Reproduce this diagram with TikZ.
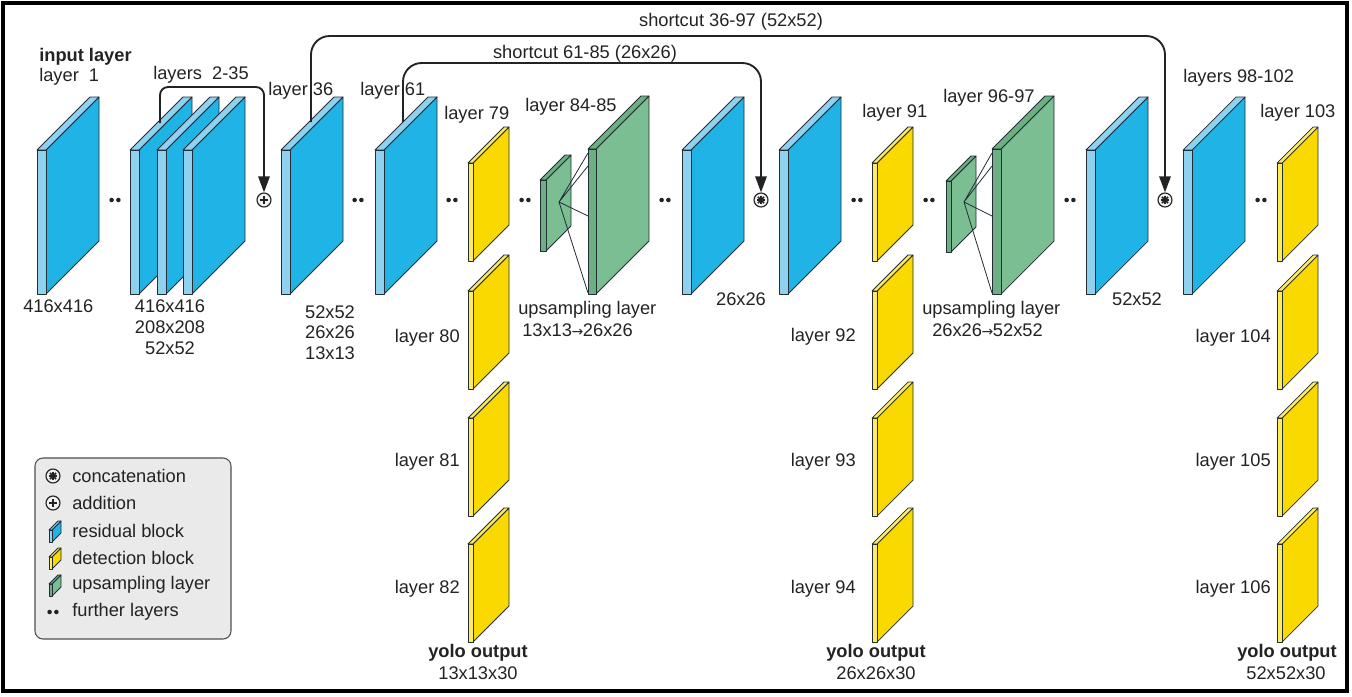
\documentclass[tikz,border=0pt]{standalone}
\usepackage{fontspec}
\setmainfont{Liberation Sans}
\newfontfamily\arrowfont{DejaVu Sans}
\usetikzlibrary{arrows.meta,calc}
\definecolor{bluedark}{RGB}{32,180,230}
\definecolor{bluelight}{RGB}{142,210,240}
\definecolor{yeldark}{RGB}{250,217,0}
\definecolor{yellight}{RGB}{255,236,90}
\definecolor{grndark}{RGB}{122,190,146}
\definecolor{grnlight}{RGB}{108,176,130}
\definecolor{edgec}{RGB}{35,45,55}
\definecolor{ink}{RGB}{35,35,35}
\definecolor{legfill}{RGB}{234,234,234}
\newcommand{\cuboid}[7]{%
  \filldraw[blockline, fill=#7] ({#1+#3},#2) -- ++(#5,-#5) -- ++(0,#4) -- ({#1+#3},{#2+#4}) -- cycle;
  \filldraw[blockline, fill=#6] (#1,#2) -- ++(#3,0) -- ++(#5,-#5) -- ++(-#3,0) -- cycle;
  \filldraw[blockline, fill=#6] (#1,#2) rectangle ++(#3,#4);
}
\newcommand{\twodots}[2]{%
  \fill[ink] ({#1-3.4},#2) circle (1.7pt) ({#1+3.4},#2) circle (1.7pt);
}
\newcommand{\smallarrow}{{\arrowfont\fontsize{10.5}{12}\selectfont\kern-0.3pt→\kern-0.3pt}}
\tikzset{
  blockline/.style={draw=edgec, line width=0.55pt, line join=round},
  lbl/.style={font=\fontsize{13.7}{16}\selectfont, text=ink, inner sep=0pt},
  lblb/.style={lbl, font=\fontsize{13.7}{16}\selectfont\bfseries},
  shortcut/.style={draw=ink, line width=1.4pt, rounded corners=14pt, -{Triangle[length=12pt,width=8.5pt]}},
  opbase/.style={circle, draw=ink, line width=0.85pt, fill=gray!12, minimum size=10.5pt, inner sep=0pt},
  addop/.style={opbase, path picture={
     \draw[ink, line width=1.2pt] ([xshift=-3.1pt]path picture bounding box.center) -- ([xshift=3.1pt]path picture bounding box.center);
     \draw[ink, line width=1.2pt] ([yshift=-3.1pt]path picture bounding box.center) -- ([yshift=3.1pt]path picture bounding box.center);}},
  catop/.style={opbase, path picture={
     \foreach \a in {0,45,90,135}{
       \draw[ink, line width=1.2pt] ($(path picture bounding box.center)+(\a:3.3pt)$) -- ($(path picture bounding box.center)+(\a+180:3.3pt)$);}}},
  upline/.style={draw=edgec, line width=0.6pt},
}
\begin{document}
\begin{tikzpicture}[x=0.75pt,y=-0.75pt]
\useasboundingbox (0,0) rectangle (1352,696);
\fill[white] (0,0) rectangle (1352,696);
\draw[black, line width=2.3pt] (3,3) rectangle (1347,691);

% ---------------- residual blocks ----------------
\cuboid{37}{150}{9}{144}{53}{bluelight}{bluedark}
\cuboid{130}{150}{9}{144}{53}{bluelight}{bluedark}
\cuboid{157}{150}{9}{144}{53}{bluelight}{bluedark}
\cuboid{183}{150}{9}{144}{53}{bluelight}{bluedark}
\cuboid{281}{150}{9}{144}{53}{bluelight}{bluedark}
\cuboid{375}{150}{9}{144}{53}{bluelight}{bluedark}
\cuboid{682}{150}{9}{144}{53}{bluelight}{bluedark}
\cuboid{779}{150}{9}{144}{53}{bluelight}{bluedark}
\cuboid{1086}{150}{9}{144}{53}{bluelight}{bluedark}
\cuboid{1183}{150}{9}{144}{53}{bluelight}{bluedark}

% ---------------- detection blocks ----------------
\foreach \cx in {468,872,1277}{
  \foreach \ry in {163,291,418,544}{
    \cuboid{\cx}{\ry}{5}{98}{36}{yellight}{yeldark}
  }
}

% ---------------- upsampling layers ----------------
\cuboid{540}{180}{6}{71}{25}{grnlight}{grndark}
\coordinate (up1) at (559,202);
\coordinate (u1a) at (588,153);
\coordinate (u1b) at (588,166);
\coordinate (u1c) at (588,216);
\coordinate (u1d) at (588,293);
\draw[upline] (up1) -- (u1a) (up1) -- (u1b) (up1) -- (u1c) (up1) -- (u1d);
\cuboid{588}{149}{8}{145}{53}{grnlight}{grndark}

\cuboid{946}{181}{5}{71}{25}{grnlight}{grndark}
\coordinate (up2) at (964,202);
\coordinate (u2a) at (992,153);
\coordinate (u2b) at (992,166);
\coordinate (u2c) at (992,216);
\coordinate (u2d) at (992,293);
\draw[upline] (up2) -- (u2a) (up2) -- (u2b) (up2) -- (u2c) (up2) -- (u2d);
\cuboid{992}{149}{9}{145}{53}{grnlight}{grndark}

% ---------------- further layers dots ----------------
\foreach \dx in {115,358,452,525,665,857,929,1070,1261}{
  \twodots{\dx}{200}
}

% ---------------- operators ----------------
\node[addop] (add) at (264,200) {};
\node[catop] (cat1) at (761,200) {};
\node[catop] (cat2) at (1165,200) {};

% ---------------- labels ----------------
\node[lblb, anchor=west] (tin) at (39,57) {input layer};
\node[lbl, anchor=west] (t1) at (39,77) {layer\ \ 1};
\node[lbl, anchor=west] (t2) at (153,75) {layers\ \ 2-35};
\node[lbl, anchor=west] (t36) at (268,91) {layer 36};
\node[lbl, anchor=west] (t61) at (360,91) {layer 61};
\node[lbl, anchor=west] (t79) at (444,115) {layer 79};
\node[lbl, anchor=west] (t84) at (525,107) {layer 84-85};
\node[lbl, anchor=west] (t91) at (862,113) {layer 91};
\node[lbl, anchor=west] (t96) at (943,98) {layer 96-97};
\node[lbl, anchor=west] (t98) at (1183,78) {layers 98-102};
\node[lbl, anchor=west] (t103) at (1260,113) {layer 103};

\node[lbl, anchor=west] (s416) at (23,306) {416x416};
\node[lbl] (sa1) at (170,306) {416x416};
\node[lbl] (sa2) at (170,327) {208x208};
\node[lbl] (sa3) at (170,348) {52x52};
\node[lbl] (sb1) at (330,312) {52x52};
\node[lbl] (sb2) at (330,332) {26x26};
\node[lbl] (sb3) at (330,353) {13x13};
\node[lbl, anchor=west] (up1t) at (518,310) {upsampling layer};
\node[lbl, anchor=west] (up1s) at (522,330) {13x13\smallarrow 26x26};
\node[lbl] (s26) at (741,299) {26x26};
\node[lbl, anchor=west] (up2t) at (922,310) {upsampling layer};
\node[lbl, anchor=west] (up2s) at (932,330) {26x26\smallarrow 52x52};
\node[lbl] (s52) at (1137,299) {52x52};

\node[lbl, anchor=east] (t80) at (460,338) {layer 80};
\node[lbl, anchor=east] (t81) at (460,462) {layer 81};
\node[lbl, anchor=east] (t82) at (460,589) {layer 82};
\node[lbl, anchor=east] (t92) at (856,337) {layer 92};
\node[lbl, anchor=east] (t93) at (856,462) {layer 93};
\node[lbl, anchor=east] (t94) at (856,589) {layer 94};
\node[lbl, anchor=east] (t104) at (1271,338) {layer 104};
\node[lbl, anchor=east] (t105) at (1271,462) {layer 105};
\node[lbl, anchor=east] (t106) at (1271,589) {layer 106};

\node[lblb] (y1) at (478,653) {yolo output};
\node[lbl] (y1s) at (478,673) {13x13x30};
\node[lblb] (y2) at (876,653) {yolo output};
\node[lbl] (y2s) at (876,673) {26x26x30};
\node[lblb] (y3) at (1287,653) {yolo output};
\node[lbl] (y3s) at (1286,673) {52x52x30};

\node[lbl] (sc1t) at (731,22) {shortcut 36-97 (52x52)};
\node[lbl] (sc2t) at (585,54) {shortcut 61-85 (26x26)};

% ---------------- shortcuts ----------------
\coordinate (s1) at (160,123);
\coordinate (lev1) at (0,87);
\coordinate (s2) at (311,122);
\coordinate (lev2) at (0,36);
\coordinate (s3) at (403,122);
\coordinate (lev3) at (0,63);
\draw[shortcut, rounded corners=6pt] (s1) -- (s1 |- lev1) -- (add |- lev1) -- (add.north);
\draw[shortcut] (s2) -- (s2 |- lev2) -- (cat2 |- lev2) -- (cat2.north);
\draw[shortcut] (s3) -- (s3 |- lev3) -- (cat1 |- lev3) -- (cat1.north);

% ---------------- legend ----------------
\draw[draw=ink!80, line width=0.8pt, fill=legfill, rounded corners=6pt] (35,458) rectangle (231,639);
\node[catop] (lcat) at (53,476) {};
\node[addop] (ladd) at (53,503) {};
\cuboid{49}{530}{3}{12}{9}{bluelight}{bluedark}
\cuboid{49}{557}{3}{12}{9}{yellight}{yeldark}
\cuboid{49}{584}{3}{12}{9}{grnlight}{grndark}
\twodots{53}{612}
\node[lbl, anchor=west] (lt1) at (72,476) {concatenation};
\node[lbl, anchor=west] (lt2) at (72,503) {addition};
\node[lbl, anchor=west] (lt3) at (72,531) {residual block};
\node[lbl, anchor=west] (lt4) at (72,558) {detection block};
\node[lbl, anchor=west] (lt5) at (72,585) {upsampling layer};
\node[lbl, anchor=west] (lt6) at (72,612) {further layers};
\end{tikzpicture}
\end{document}
